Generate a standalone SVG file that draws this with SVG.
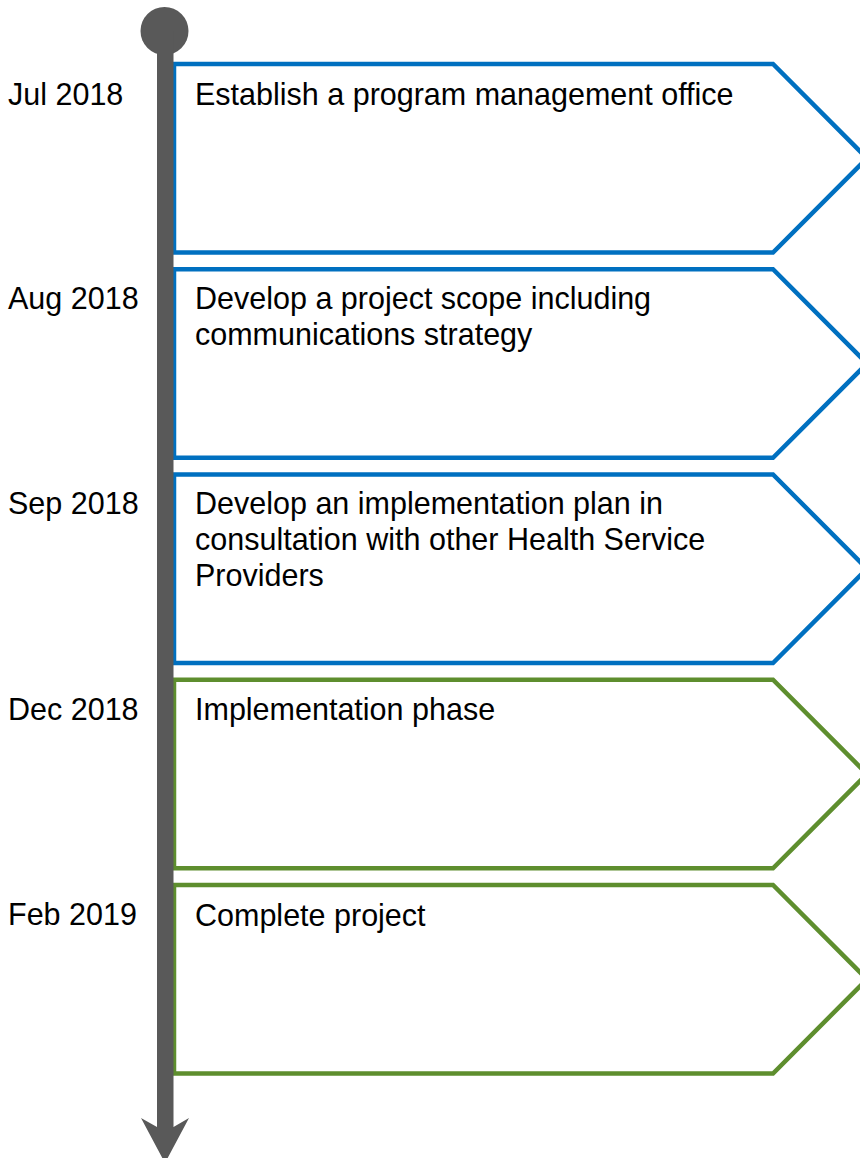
<svg xmlns="http://www.w3.org/2000/svg" width="860" height="1158" viewBox="0 0 860 1158">
<style>
.t{font-family:"Liberation Sans",Arial,sans-serif;font-size:30.5px;fill:#000}
.b{fill:#fff;stroke:#0070C0;stroke-width:4.5}
.g{fill:#fff;stroke:#5E8E2E;stroke-width:4.5}
</style>
<rect width="860" height="1158" fill="#fff"/>
<g id="nodes">
<g id="n1"><polygon class="b" points="174,64 773,64 867,158.25 773,252.5 174,252.5"/><text class="t" x="195" y="105">Establish a program management office</text></g>
<g id="n2"><polygon class="b" points="174,269.25 773,269.25 867,363.5 773,457.75 174,457.75"/><text class="t" x="195" y="309">Develop a project scope including</text><text class="t" x="195" y="345">communications strategy</text></g>
<g id="n3"><polygon class="b" points="174,474.5 773,474.5 867,568.75 773,663 174,663"/><text class="t" x="195" y="514">Develop an implementation plan in</text><text class="t" x="195" y="550">consultation with other Health Service</text><text class="t" x="195" y="586">Providers</text></g>
<g id="n4"><polygon class="g" points="174,679.75 773,679.75 867,774 773,868.25 174,868.25"/><text class="t" x="195" y="720">Implementation phase</text></g>
<g id="n5"><polygon class="g" points="174,885 773,885 867,979.25 773,1073.5 174,1073.5"/><text class="t" x="195" y="926">Complete project</text></g>
</g>
<g id="labels">
<text class="t" x="8" y="105">Jul 2018</text>
<text class="t" x="8" y="309">Aug 2018</text>
<text class="t" x="8" y="514">Sep 2018</text>
<text class="t" x="8" y="720">Dec 2018</text>
<text class="t" x="8" y="925">Feb 2019</text>
</g>
<g id="connectors">
<circle cx="164.5" cy="31" r="24" fill="#595959"/>
<rect x="157" y="31" width="16.5" height="1100" fill="#595959"/>
<polygon points="157,1127 141,1118 165,1163 189,1118 173.5,1127" fill="#595959"/>
</g>
</svg>
